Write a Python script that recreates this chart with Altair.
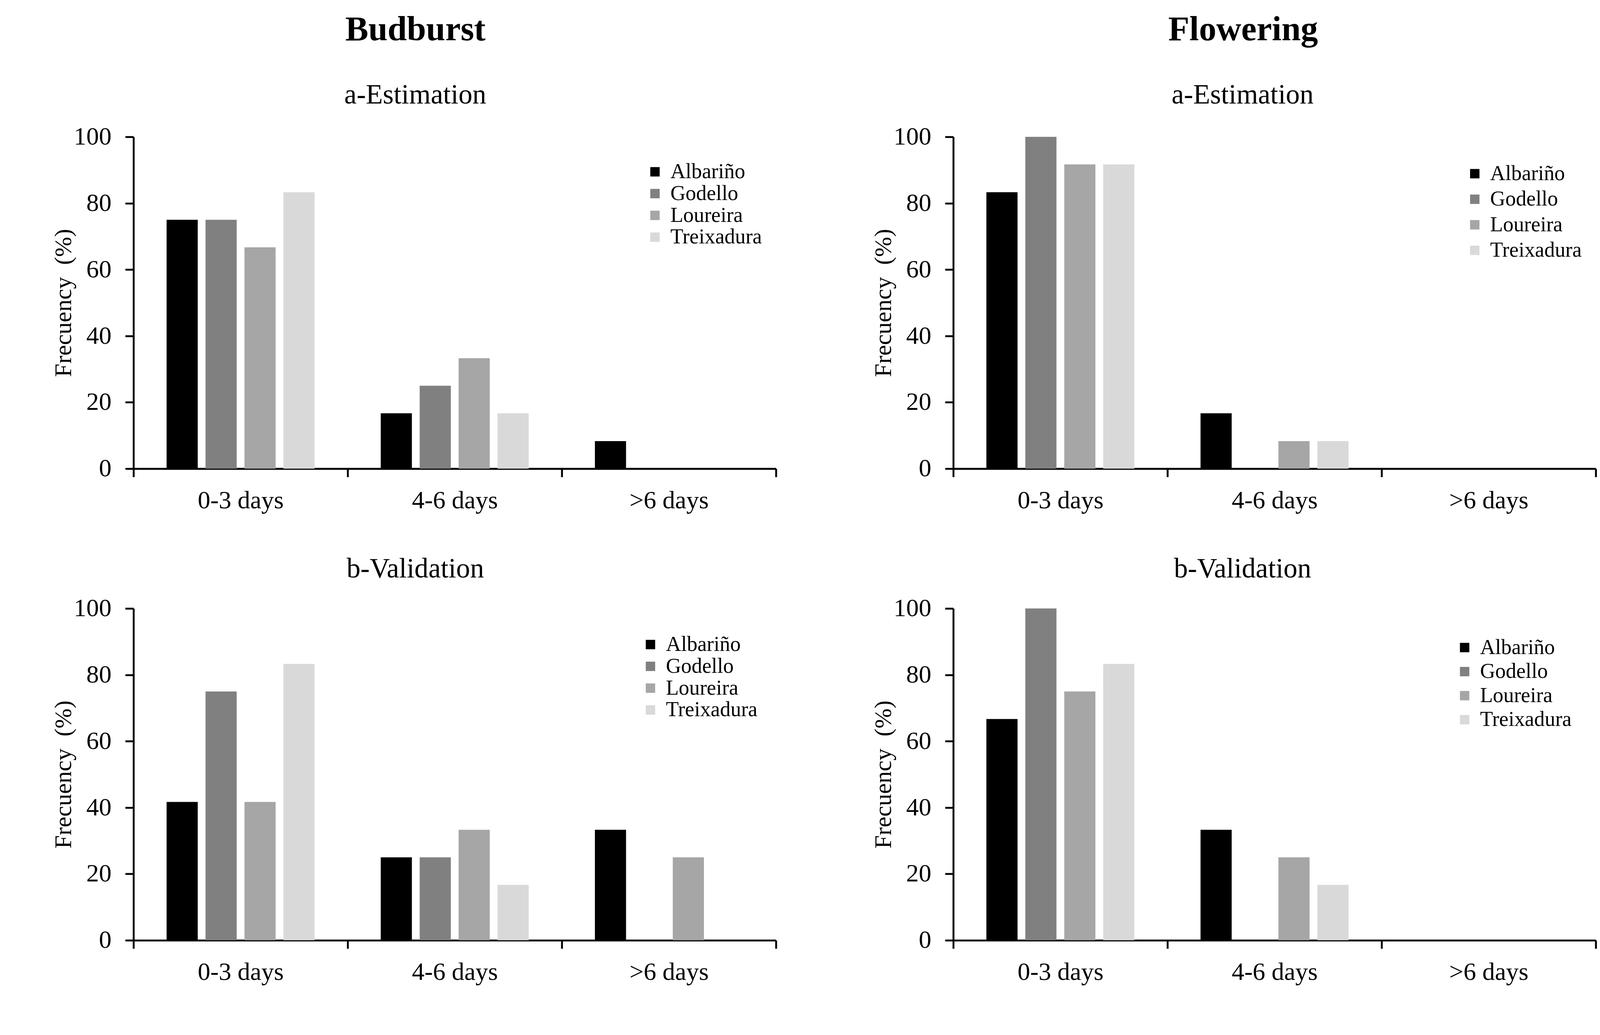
import altair as alt
import pandas as pd

varieties = ["Albariño", "Godello", "Loureira", "Treixadura"]
cats = ["0-3 days", "4-6 days", ">6 days"]
colors = ["#000000", "#808080", "#a6a6a6", "#d9d9d9"]

# values per variety, ordered as cats
bud_est = {"Albariño": [75.0, 16.7, 8.3], "Godello": [75.0, 25.0, 0.0],
           "Loureira": [66.7, 33.3, 0.0], "Treixadura": [83.3, 16.7, 0.0]}
bud_val = {"Albariño": [41.7, 25.0, 33.3], "Godello": [75.0, 25.0, 0.0],
           "Loureira": [41.7, 33.3, 25.0], "Treixadura": [83.3, 16.7, 0.0]}
flo_est = {"Albariño": [83.3, 16.7, 0.0], "Godello": [100.0, 0.0, 0.0],
           "Loureira": [91.7, 8.3, 0.0], "Treixadura": [91.7, 8.3, 0.0]}
flo_val = {"Albariño": [66.7, 33.3, 0.0], "Godello": [100.0, 0.0, 0.0],
           "Loureira": [75.0, 25.0, 0.0], "Treixadura": [83.3, 16.7, 0.0]}

y_ticks = [0, 20, 40, 60, 80, 100]
y_title = "Frecuency\u00a0 (%)"
FONT = "Liberation Serif"
W, H = 1710, 883


def to_df(d):
    rows = []
    for v in varieties:
        for c, val in zip(cats, d[v]):
            rows.append({"cat": c, "variety": v, "value": val})
    return pd.DataFrame(rows)


def panel(d, title, lx, ly, rowpad, tdx, toff):
    return alt.Chart(to_df(d)).mark_bar().encode(
        x=alt.X("cat:N", sort=cats, title=None,
                scale=alt.Scale(paddingInner=0, paddingOuter=0),
                axis=alt.Axis(tickBand="extent", labelAngle=0, labelPadding=30,
                              labelLimit=0)),
        xOffset=alt.XOffset("variety:N", sort=varieties,
                            scale=alt.Scale(paddingInner=0.2, paddingOuter=0.85)),
        y=alt.Y("value:Q", title=y_title,
                scale=alt.Scale(domain=[0, 100], nice=False),
                axis=alt.Axis(values=y_ticks, labelPadding=37, titlePadding=-6,
                              titleFontSize=64, titleFontWeight="normal",
                              labelLimit=0)),
        color=alt.Color("variety:N", sort=varieties,
                        scale=alt.Scale(domain=varieties, range=colors),
                        legend=alt.Legend(orient="none", legendX=lx, legendY=ly,
                                          title=None, symbolType="square",
                                          symbolSize=625, symbolStrokeWidth=0,
                                          labelFontSize=56, labelFont=FONT,
                                          labelColor="black", labelOffset=13,
                                          labelLimit=0,
                                          rowPadding=rowpad, padding=0)),
    ).properties(
        width=W, height=H,
        title=alt.TitleParams(title, fontSize=74, font=FONT, fontWeight="normal",
                              color="black", anchor="middle", frame="group",
                              offset=toff, dx=tdx),
    )


tl = panel(bud_est, "a-Estimation", 1360, 65, 2, -105, 39)
bl = panel(bud_val, "b-Validation", 1348, 68, 2, -105, 32)
tr = panel(flo_est, "a-Estimation", 1360, 70, 12, -85, 39)
br = panel(flo_val, "b-Validation", 1333, 76, 8, -85, 32)

col_l = alt.vconcat(tl, bl, spacing=113,
                    title=alt.TitleParams("Budburst", fontSize=92, font=FONT,
                                          fontWeight="bold", color="black",
                                          anchor="middle", offset=90, dx=3)
                    ).resolve_scale(color="independent")
col_r = alt.vconcat(tr, br, spacing=113,
                    title=alt.TitleParams("Flowering", fontSize=92, font=FONT,
                                          fontWeight="bold", color="black",
                                          anchor="middle", offset=90, dx=24)
                    ).resolve_scale(color="independent")

chart = alt.hconcat(col_l, col_r, spacing=251).resolve_scale(
    color="independent"
).properties(
    padding={"left": 129, "top": -26, "right": 0, "bottom": 0},
    background="white",
).configure_view(stroke=None).configure_axis(
    domainColor="black", domainWidth=5, tickColor="black", tickWidth=5,
    tickSize=22, labelColor="black", labelFont=FONT, labelFontSize=67,
    titleColor="black", titleFont=FONT, grid=False,
)

chart.save("out.html", embed_options={"renderer": "svg", "actions": False})
